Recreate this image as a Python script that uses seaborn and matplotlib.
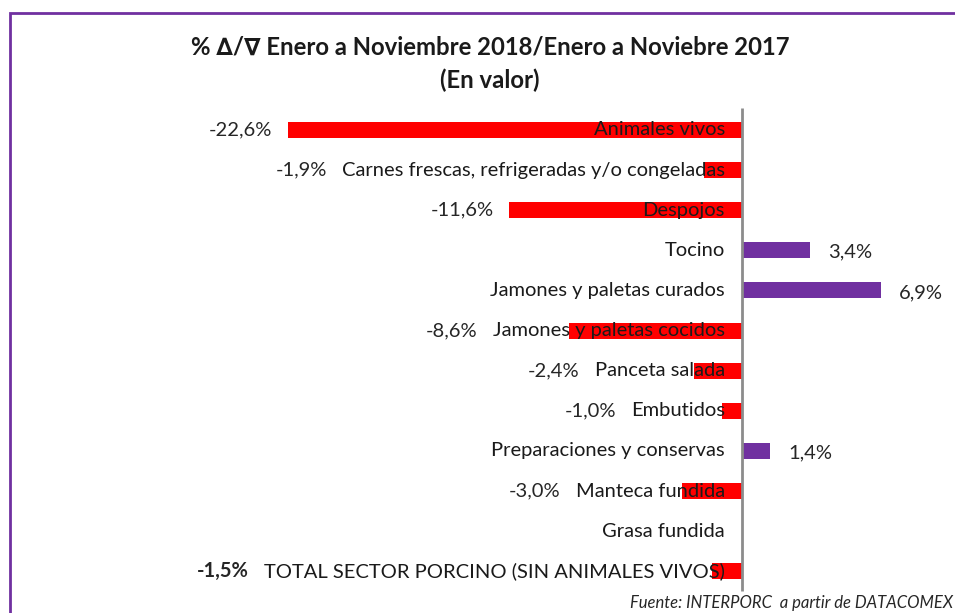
# Variación % Enero-Noviembre 2018 / 2017 (en valor), sector porcino
import numpy as np
import pandas as pd
import matplotlib
matplotlib.use("Agg")
import matplotlib.pyplot as plt
import seaborn as sns
from matplotlib.patches import Rectangle

# --- datos ---
categorias = [
    "Animales vivos",
    "Carnes frescas, refrigeradas y/o congeladas",
    "Despojos",
    "Tocino",
    "Jamones y paletas curados",
    "Jamones y paletas cocidos",
    "Panceta salada",
    "Embutidos",
    "Preparaciones y conservas",
    "Manteca fundida",
    "Grasa fundida",
    "TOTAL SECTOR PORCINO (SIN ANIMALES VIVOS)",
]
variacion = [-22.6, -1.9, -11.6, 3.4, 6.9, -8.6, -2.4, -1.0, 1.4, -3.0, 0.0, -1.5]

df = pd.DataFrame({"categoria": categorias, "variacion": variacion})
df["signo"] = np.where(df["variacion"] < 0, "neg", "pos")

sns.set_style("white")
plt.rcParams["font.family"] = ["Lato", "DejaVu Sans"]

fig = plt.figure(figsize=(9.55, 6.13), dpi=100)
ax = fig.add_axes([0, 0, 1, 1])

sns.barplot(data=df, x="variacion", y="categoria", hue="signo",
            palette={"neg": "#FF0000", "pos": "#7030A0"}, saturation=1,
            width=0.4, dodge=False, legend=False, linewidth=0, ax=ax)

ax.set_xlim(-36.9, 10.6)
ax.set_ylim(12.04, -3.24)
ax.axis("off")

# eje vertical en cero
ax.vlines(0, -0.55, 11.5, color="#8c8c8c", lw=2, zorder=3)

# etiquetas de categoría, junto al eje
cat_texts = []
for i, cat in enumerate(categorias):
    t = ax.text(-0.85, i, cat, ha="right", va="center", fontsize=14.5,
                color="#1a1a1a", zorder=4)
    cat_texts.append(t)

fig.canvas.draw()
renderer = fig.canvas.get_renderer()
inv = ax.transData.inverted()
px = 1 / 20.1  # un pixel en unidades de datos (x)

# etiquetas de valor
for i, v in enumerate(variacion):
    if v == 0:
        continue
    lab = f"{v:.1f}%".replace(".", ",")
    bold = categorias[i].startswith("TOTAL")
    if v < 0:
        bb = cat_texts[i].get_window_extent(renderer)
        text_left = inv.transform((bb.x0, bb.y0))[0]
        x = min(v, text_left) - 15 * px
        ax.text(x, i, lab, ha="right", va="center", fontsize=14.5,
                color="#262626", fontweight="bold" if bold else "normal")
    else:
        ax.text(v + 18 * px, i + 0.05, lab, ha="left", va="center",
                fontsize=14.5, color="#262626")

# título
fig.text(0.513, 1 - 47 / 613, "% \u2206/\u2207 Enero a Noviembre 2018/Enero a Noviebre 2017",
         ha="center", va="center", fontsize=17.2, fontweight="bold", color="#1a1a1a")
fig.text(0.513, 1 - 80 / 613, "(En valor)", ha="center", va="center",
         fontsize=17.2, fontweight="bold", color="#1a1a1a")

# fuente
fig.text(953 / 955, 1 - 603 / 613, "Fuente: INTERPORC  a partir de DATACOMEX",
         ha="right", va="center", fontsize=12, style="italic", color="#262626")

# marco morado
fig.patches.append(Rectangle((10 / 955, -0.2), 1.2, 1 - 13 / 613 + 0.2,
                             transform=fig.transFigure, fill=False,
                             edgecolor="#7030A0", lw=2))

fig.savefig("out.png", dpi=100)
